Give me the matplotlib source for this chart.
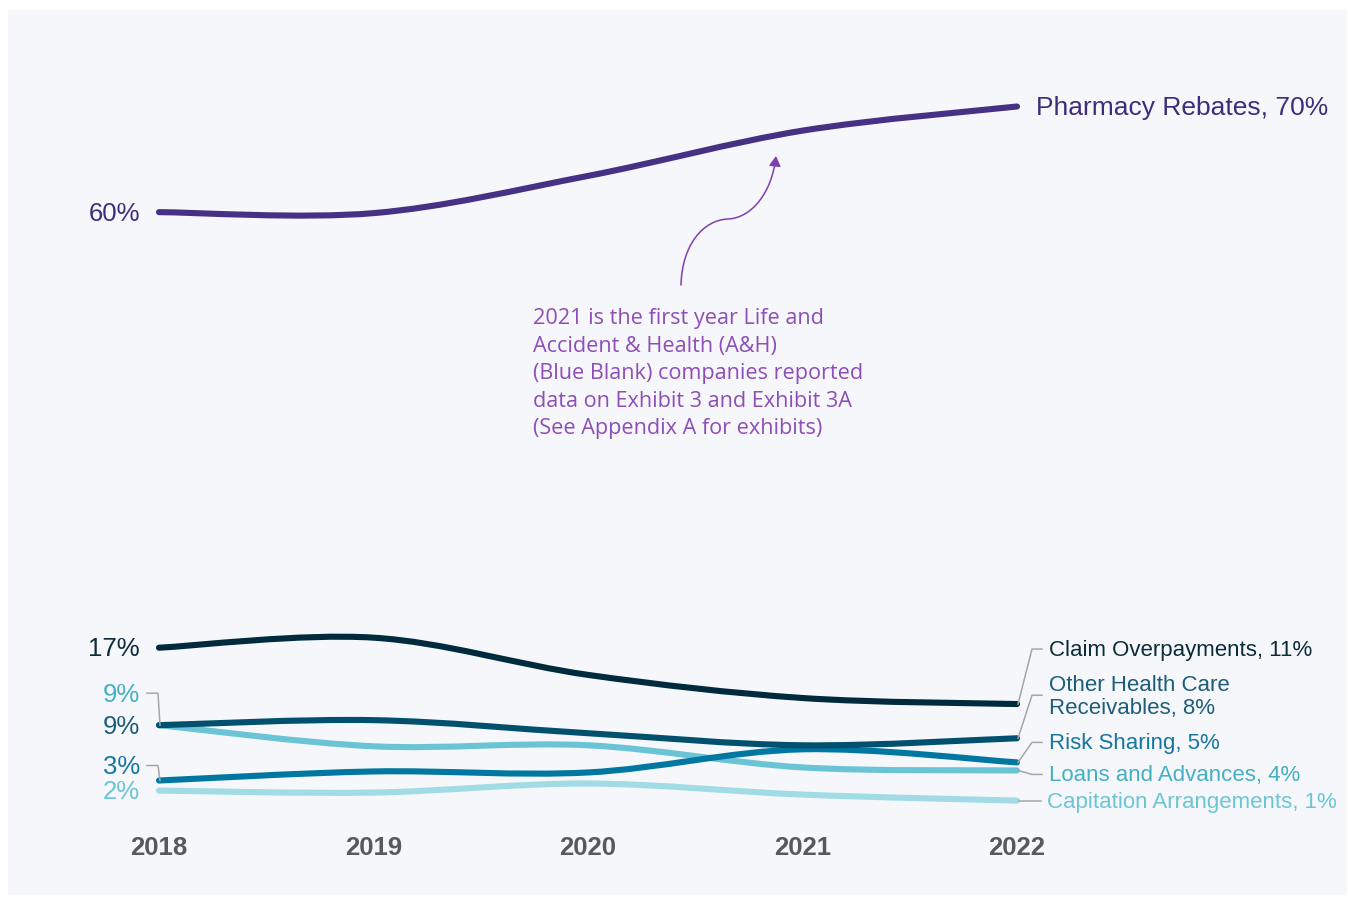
import matplotlib
matplotlib.use("Agg")
import matplotlib.pyplot as plt
from matplotlib.path import Path
from matplotlib.patches import PathPatch, Rectangle, FancyArrowPatch

W, H = 1348, 897

years = [2018, 2019, 2020, 2021, 2022]

# shares of total receivables (%)
pharmacy_rebates = [59.8, 59.7, 63.4, 67.9, 70.3]
claim_overpayments = [16.5, 17.5, 13.8, 11.5, 10.9]
other_health_care = [8.8, 9.3, 8.0, 6.8, 7.5]
risk_sharing = [3.3, 4.2, 4.1, 6.4, 5.1]
loans_and_advances = [8.8, 6.7, 6.8, 4.6, 4.3]
capitation = [2.3, 2.1, 3.0, 1.9, 1.3]

series_names = ["Pharmacy Rebates", "Claim Overpayments", "Other Health Care\nReceivables",
                "Risk Sharing", "Loans and Advances", "Capitation Arrangements"]
start_labels = ["60%", "17%", "9%", "3%", "9%", "2%"]
end_labels = ["70%", "11%", "8%", "5%", "4%", "1%"]

annotation_text = ("2021 is the first year Life and\n"
                   "Accident & Health (A&H)\n"
                   "(Blue Blank) companies reported\n"
                   "data on Exhibit 3 and Exhibit 3A\n"
                   "(See Appendix A for exhibits)")


def to_fig(x, y):
    # pixel position measured from the top-left corner -> figure fraction
    return x / W, 1 - y / H


def smooth_path(xs, ys):
    # catmull-rom through the points, expressed as cubic bezier segments
    pts = list(zip(xs, ys))
    ext = [pts[0]] + pts + [pts[-1]]
    verts = [pts[0]]
    codes = [Path.MOVETO]
    for i in range(1, len(ext) - 2):
        p0, p1, p2, p3 = ext[i - 1], ext[i], ext[i + 1], ext[i + 2]
        c1 = (p1[0] + (p2[0] - p0[0]) / 6, p1[1] + (p2[1] - p0[1]) / 6)
        c2 = (p2[0] - (p3[0] - p1[0]) / 6, p2[1] - (p3[1] - p1[1]) / 6)
        verts += [c1, c2, p2]
        codes += [Path.CURVE4] * 3
    return Path(verts, codes)


def data_px(ax, x, y):
    # data point -> pixel position from top-left
    dx, dy = ax.transData.transform((x, y))
    return dx, H - dy


fig = plt.figure(figsize=(W / 100, H / 100), dpi=100)
fig.patch.set_facecolor("white")
fig.add_artist(Rectangle(to_fig(8, 895), (1347 - 8) / W, (895 - 10) / H,
                         transform=fig.transFigure, facecolor="#F5F7FB", edgecolor="none", zorder=0))

ax = fig.add_axes([159 / W, 1 - 813.7 / H, (1017 - 159) / W, 724.3 / H])
ax.set_xlim(2018, 2022)
ax.set_ylim(0, 72)
ax.axis("off")

all_series = [pharmacy_rebates, claim_overpayments, other_health_care,
              risk_sharing, loans_and_advances, capitation]
line_colors = ["#463184", "#002B3D", "#00506E", "#0077A0", "#6AC4D6", "#A0DBE6"]
text_colors = ["#3F2D7C", "#0C2C3A", "#1E5D78", "#1677A0", "#45AFC5", "#6CC5D7"]
draw_order = [5, 4, 3, 2, 1, 0]
start_shift = [0, 0, 0, -15, -32, 0]      # px shift of left label
end_shift = [0, -55, -43, -20, 4, 0]      # px shift of right label

for i in draw_order:
    patch = PathPatch(smooth_path(years, all_series[i]), fill=False, edgecolor=line_colors[i],
                      lw=4.4, capstyle="round", joinstyle="round", zorder=3 + (5 - i) * 0.1)
    patch.set_clip_on(False)
    ax.add_patch(patch)

sans = ["Liberation Sans", "DejaVu Sans"]
leader = dict(color="#A6A6A6", lw=1.1, transform=fig.transFigure, zorder=2)

for i, vals in enumerate(all_series):
    # left labels
    x0, y0 = data_px(ax, years[0], vals[0])
    ty = y0 + start_shift[i]
    fig.text(*to_fig(140, ty + 1.5), start_labels[i], ha="right", va="center", fontsize=18.5,
             color=text_colors[i], family=sans)
    if start_shift[i] != 0:
        xs, ys = zip(to_fig(147, ty), to_fig(158, ty), to_fig(x0 + 1, y0))
        fig.add_artist(plt.Line2D(xs, ys, **leader))

    # right labels
    x1, y1 = data_px(ax, years[-1], vals[-1])
    label = series_names[i] + ", " + end_labels[i]
    if i == 0:
        fig.text(*to_fig(x1 + 19, y1 + 1), label, ha="left", va="center", fontsize=19,
                 color=text_colors[i], family=sans)
        continue
    ty = y1 + end_shift[i]
    if end_shift[i] == 0:
        pts = [to_fig(x1 + 2, y1), to_fig(x1 + 24, y1)]
        tx = x1 + 30
    else:
        pts = [to_fig(x1 + 1, y1), to_fig(x1 + 15, ty), to_fig(x1 + 25, ty)]
        tx = x1 + 32
    xs, ys = zip(*pts)
    fig.add_artist(plt.Line2D(xs, ys, **leader))
    fig.text(*to_fig(tx, ty + 1.5), label, ha="left", va="center", fontsize=16,
             color=text_colors[i], family=sans, linespacing=1.1)

# year labels
for yr in years:
    xp, _ = data_px(ax, yr, 0)
    fig.text(*to_fig(xp, 848), str(yr), ha="center", va="center", fontsize=18.5,
             fontweight="bold", color="#595959",
             family=["Liberation Sans Narrow", "Liberation Sans", "DejaVu Sans"])

# annotation
fig.text(*to_fig(533, 308), annotation_text, ha="left", va="top", fontsize=15.6,
         color="#8E4DB7", family=["Open Sans", "DejaVu Sans"], linespacing=1.41)

arrow_pts = [(681, 285), (682, 245), (703, 220), (728, 219),
             (752, 218), (772, 192), (776, 156)]
arrow_path = Path([to_fig(*p) for p in arrow_pts],
                  [Path.MOVETO] + [Path.CURVE4] * 6)
fig.add_artist(FancyArrowPatch(path=arrow_path, arrowstyle="-|>,head_length=6,head_width=3.5",
                               color="#7F3FB0", lw=1.1, transform=fig.transFigure))

fig.savefig("out.png", dpi=100, facecolor=fig.get_facecolor())
